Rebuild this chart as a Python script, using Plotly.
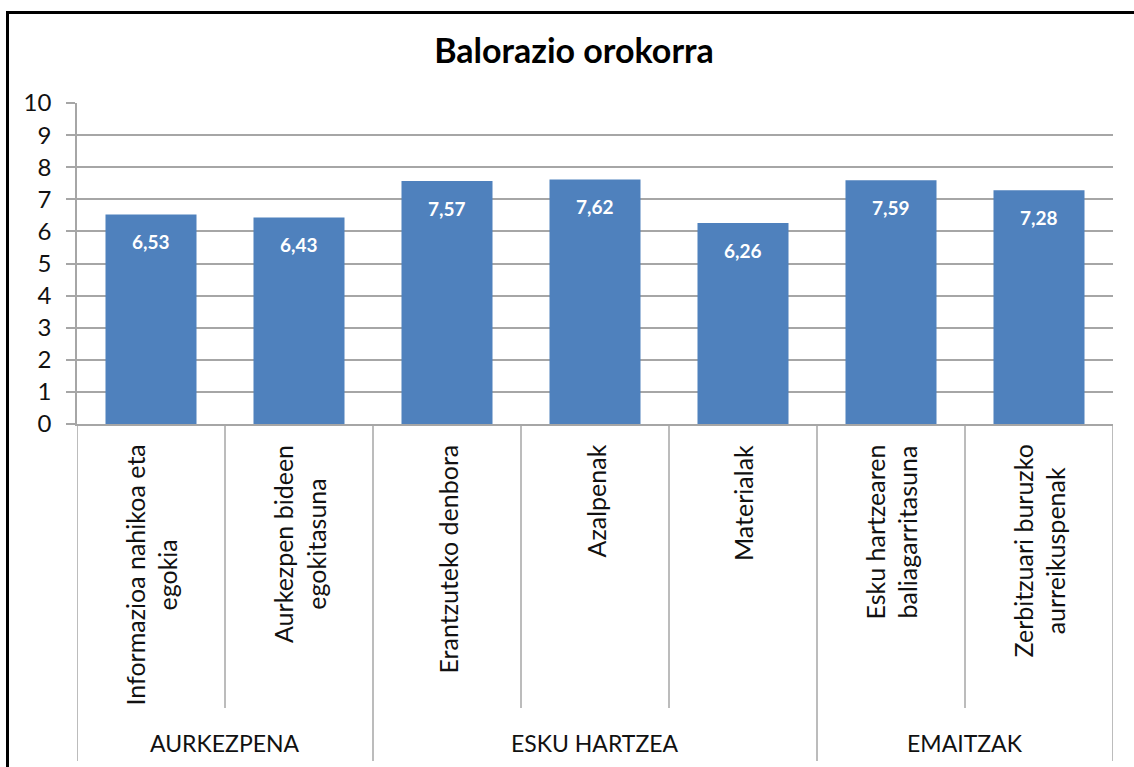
import plotly.graph_objects as go

# data
categories = ['Informazioa nahikoa eta egokia', 'Aurkezpen bideen egokitasuna',
              'Erantzuteko denbora', 'Azalpenak', 'Materialak',
              'Esku hartzearen baliagarritasuna', 'Zerbitzuari buruzko aurreikuspenak']
cat_labels = ['Informazioa nahikoa eta<br>egokia', 'Aurkezpen bideen<br>egokitasuna',
              'Erantzuteko denbora', 'Azalpenak', 'Materialak',
              'Esku hartzearen<br>baliagarritasuna', 'Zerbitzuari buruzko<br>aurreikuspenak']
values = [6.53, 6.43, 7.57, 7.62, 6.26, 7.59, 7.28]
groups = ['AURKEZPENA', 'ESKU HARTZEA', 'EMAITZAK']
group_sizes = [2, 3, 2]
y_ticks = list(range(0, 11))

W, H = 1134, 767
L, R, T, B = 77, 21, 103, 343
PW, PH = W - L - R, H - T - B
FONT = 'Lato'
GRID = '#a6a6a6'
BLUE = '#4f81bd'


def px_x(px):
    return (px - L) / PW


def px_y(py):
    return (H - B - py) / PH


fig = go.Figure()
fig.add_trace(go.Bar(x=categories, y=values, marker_color=BLUE,
                     marker_line_width=0, hoverinfo='skip'))

annotations = []
# value labels inside the bars
for c, v in zip(categories, values):
    annotations.append(dict(x=c, y=v, xref='x', yref='y', yshift=-27,
                            text='{:.2f}'.format(v).replace('.', ','),
                            showarrow=False, yanchor='middle',
                            font=dict(family=FONT, size=19, color='white', weight='bold')))
# rotated category labels
for c, lab in zip(categories, cat_labels):
    annotations.append(dict(x=c, y=0, xref='x', yref='paper', yshift=-19,
                            text=lab, textangle=-90, showarrow=False,
                            xanchor='center', yanchor='top', align='center',
                            font=dict(family=FONT, size=25, color='#111111')))

shapes = []
# group labels and separators
start = 0
bounds = [-0.5]
for g, n in zip(groups, group_sizes):
    annotations.append(dict(x=start + (n - 1) / 2, y=px_y(743), xref='x', yref='paper',
                            text=g, showarrow=False, yanchor='middle',
                            font=dict(family=FONT, size=23, color='#111111')))
    for k in range(1, n):
        b = start + k - 0.5
        shapes.append(dict(type='line', xref='x', yref='paper', x0=b, x1=b,
                           y0=0, y1=px_y(708), line=dict(color=GRID, width=1.5)))
    start += n
    bounds.append(start - 0.5)
for b in bounds:
    shapes.append(dict(type='line', xref='x', yref='paper', x0=b, x1=b,
                       y0=0, y1=px_y(761), line=dict(color=GRID, width=1.5)))

# outer chart border (runs off the right and bottom of the picture)
shapes.append(dict(type='rect', xref='paper', yref='paper',
                   x0=px_x(7.5), x1=px_x(1145), y0=px_y(12.5), y1=px_y(800),
                   line=dict(color='black', width=3)))

fig.update_layout(
    width=W, height=H,
    margin=dict(l=L, r=R, t=T, b=B),
    paper_bgcolor='white', plot_bgcolor='white',
    showlegend=False,
    bargap=0.385,
    title=dict(text='<b>Balorazio orokorra</b>', x=574 / W, xref='container',
               xanchor='center', y=1 - 51 / H, yanchor='middle',
               font=dict(family=FONT, size=34, color='black')),
    xaxis=dict(range=[-0.5, len(categories) - 0.5], showticklabels=False,
               showline=True, linecolor=GRID, linewidth=1.5, ticks='',
               showgrid=False, zeroline=False),
    yaxis=dict(range=[0, 10], tickvals=y_ticks, ticks='outside', ticklen=9,
               tickcolor=GRID, tickwidth=1.5, showline=True, linecolor=GRID,
               linewidth=1.5, gridcolor=GRID, gridwidth=1.5, zeroline=False,
               ticklabelstandoff=10,
               tickfont=dict(family=FONT, size=24, color='#111111')),
    annotations=annotations,
    shapes=shapes,
)

# drop the browser's default page margin so the figure sits at (0, 0)
fig.write_html('out.html', config={'displayModeBar': False},
               post_script="document.body.style.margin='0';")
